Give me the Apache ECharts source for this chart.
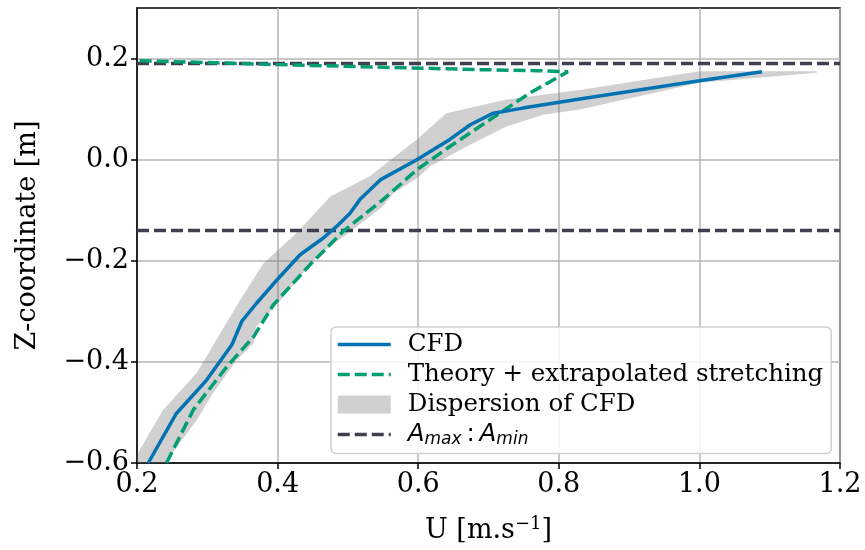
<!DOCTYPE html>
<html><head><meta charset="utf-8">
<script src="https://cdn.jsdelivr.net/npm/echarts@6/dist/echarts.min.js"></script>
<style>html,body{margin:0;padding:0;background:#fff}#c{width:865px;height:550px}</style>
</head><body><div id="c"></div>
<script>
// ---- data ----
const xTicks = [0.2, 0.4, 0.6, 0.8, 1.0, 1.2];
const yTicks = [-0.6, -0.4, -0.2, 0.0, 0.2];

const cfdU = [0.216, 0.256, 0.299, 0.335, 0.349, 0.370, 0.399, 0.432, 0.465, 0.484, 0.503, 0.517, 0.546, 0.598, 0.645, 0.674, 0.707, 0.749, 0.830, 1.000, 1.089];
const cfdZ = [-0.600, -0.502, -0.436, -0.366, -0.320, -0.284, -0.238, -0.188, -0.155, -0.132, -0.106, -0.079, -0.040, 0.000, 0.040, 0.069, 0.092, 0.102, 0.120, 0.156, 0.174];

const theoryU = [0.242, 0.280, 0.328, 0.366, 0.394, 0.446, 0.493, 0.550, 0.598, 0.645, 0.702, 0.759, 0.813, 0.770, 0.690, 0.590, 0.400, 0.200];
const theoryZ = [-0.600, -0.495, -0.409, -0.350, -0.287, -0.208, -0.142, -0.079, -0.020, 0.026, 0.079, 0.132, 0.174, 0.176, 0.178, 0.1815, 0.188, 0.196];

// dispersion band: min-U edge (bottom -> top) then max-U edge (top -> bottom)
const bandMinU = [0.190, 0.204, 0.237, 0.285, 0.313, 0.347, 0.380, 0.427, 0.475, 0.531, 0.598, 0.640, 0.726, 0.830, 1.000, 1.167];
const bandMinZ = [-0.620, -0.574, -0.495, -0.422, -0.356, -0.277, -0.205, -0.145, -0.073, -0.033, 0.040, 0.092, 0.119, 0.138, 0.175, 0.175];
const bandMaxU = [1.167, 1.000, 0.830, 0.778, 0.726, 0.669, 0.617, 0.600, 0.565, 0.550, 0.513, 0.456, 0.405, 0.370, 0.366, 0.342, 0.308, 0.285, 0.240, 0.232];
const bandMaxZ = [0.172, 0.152, 0.099, 0.089, 0.066, 0.026, -0.013, -0.035, -0.066, -0.092, -0.132, -0.191, -0.277, -0.330, -0.363, -0.396, -0.462, -0.515, -0.600, -0.620];

const amaxLevels = [0.19, -0.14];
const uRange = [0.2, 1.2];

// ---- chart ----
const zip = (a, b) => a.map((v, i) => [v, b[i]]);
const bandPoly = zip(bandMinU, bandMinZ).concat(zip(bandMaxU, bandMaxZ));
const fmt = v => (v < -1e-9 ? '\u2212' : '') + Math.abs(v).toFixed(1);
const SERIF = 'DejaVu Serif';

const BLUE = '#0173b2', GREEN = '#029e73', DARK = '#3f3f4f';
const LW = 3.5, DASH = [12, 5];

const series = [
  {
    type: 'custom', name: 'Dispersion of CFD', z: 1, clip: true,
    itemStyle: { color: 'rgba(110,110,110,0.32)' },
    data: [[0.7, 0]],
    renderItem: function (params, api) {
      const pts = bandPoly.map(p => api.coord(p));
      return { type: 'polygon', shape: { points: pts }, style: { fill: 'rgba(110,110,110,0.32)' } };
    }
  },
  {
    type: 'line', name: 'CFD', data: zip(cfdU, cfdZ), showSymbol: false, symbol: 'none',
    lineStyle: { color: BLUE, width: LW }, itemStyle: { color: BLUE }, z: 4, clip: true
  },
  {
    type: 'line', name: 'Theory', data: zip(theoryU, theoryZ), showSymbol: false, symbol: 'none',
    lineStyle: { color: GREEN, width: LW, type: DASH }, itemStyle: { color: GREEN }, z: 3, clip: true
  }
];
amaxLevels.forEach(z => series.push({
  type: 'line', name: 'Amax', data: uRange.map(u => [u, z]), showSymbol: false, symbol: 'none',
  lineStyle: { color: DARK, width: LW, type: DASH }, itemStyle: { color: DARK }, z: 2
}));

const chart = echarts.init(document.getElementById('c'), null, { renderer: 'canvas' });
chart.setOption({
  animation: false,
  backgroundColor: '#fff',
  grid: { left: 137, right: 25, top: 8, bottom: 87, show: true, borderColor: '#000', borderWidth: 1.5, backgroundColor: 'transparent' },
  xAxis: {
    type: 'value', min: uRange[0], max: uRange[1], interval: 0.2,
    name: 'U [m.s{sup|\u22121}]', nameLocation: 'middle', nameGap: 52,
    nameTextStyle: { fontFamily: SERIF, fontSize: 27, color: '#000',
      rich: { sup: { fontFamily: SERIF, fontSize: 18, color: '#000', verticalAlign: 'top', padding: [0, 0, 14, 0] } } },
    axisLine: { show: true, onZero: false, lineStyle: { color: '#000', width: 1.5 } },
    axisTick: { show: true, length: 6, lineStyle: { color: '#000', width: 1.5 }, customValues: xTicks },
    axisLabel: { fontFamily: SERIF, fontSize: 27, color: '#000', margin: 8, formatter: fmt, customValues: xTicks },
    splitLine: { show: true, lineStyle: { color: '#b4b4b4', width: 1.5 } }
  },
  yAxis: {
    type: 'value', min: -0.6, max: 0.3, interval: 0.2,
    name: 'Z-coordinate [m]', nameLocation: 'middle', nameGap: 96,
    nameTextStyle: { fontFamily: SERIF, fontSize: 27, color: '#000' },
    axisLine: { show: true, onZero: false, lineStyle: { color: '#000', width: 1.5 } },
    axisTick: { show: true, length: 6, lineStyle: { color: '#000', width: 1.5 }, customValues: yTicks },
    axisLabel: { fontFamily: SERIF, fontSize: 27, color: '#000', margin: 8, formatter: fmt, customValues: yTicks },
    splitLine: { show: true, lineStyle: { color: '#b4b4b4', width: 1.5 } }
  },
  legend: {
    orient: 'vertical', left: 331, top: 327,
    data: [
      { name: 'CFD' },
      { name: 'Theory' },
      { name: 'Dispersion of CFD', icon: 'rect', itemStyle: { opacity: 1 } },
      { name: 'Amax' }
    ],
    itemWidth: 53, itemHeight: 18, itemGap: 5,
    itemStyle: { opacity: 0 },
    lineStyle: { width: LW },
    padding: [5, 8, 5, 5],
    backgroundColor: 'rgba(255,255,255,0.85)', borderColor: '#d0d0d0', borderWidth: 1.5, borderRadius: 5,
    textStyle: { fontFamily: SERIF, fontSize: 24.5, color: '#000', padding: [0, 0, 0, 12],
      rich: {
        i: { fontFamily: 'DejaVu Sans', fontStyle: 'italic', fontSize: 24.5, color: '#000' },
        s: { fontFamily: 'DejaVu Sans', fontStyle: 'italic', fontSize: 17, color: '#000', padding: [11, 0, 0, 0] },
        c: { fontFamily: 'DejaVu Sans', fontSize: 24.5, color: '#000' }
      } },
    formatter: function (name) {
      if (name === 'Theory') return 'Theory + extrapolated stretching';
      if (name === 'Amax') return '{i|A}{s|max}{c|\u2009:\u2009}{i|A}{s|min}';
      return name;
    }
  },
  series: series
});
</script>
</body></html>
